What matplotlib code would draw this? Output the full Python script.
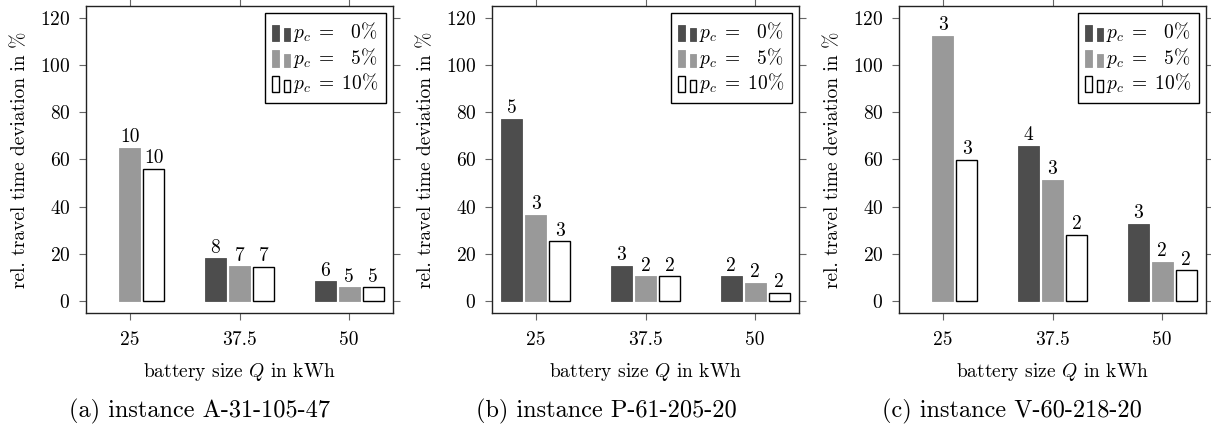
import numpy as np
import matplotlib
matplotlib.use("Agg")
import matplotlib.pyplot as plt
from matplotlib.patches import Rectangle
from matplotlib.legend_handler import HandlerBase

# ========= estilo tipo pgfplots ==========
plt.rcParams['font.family'] = 'serif'
plt.rcParams['font.serif'] = ['cmr10']
plt.rcParams['mathtext.fontset'] = 'cm'
plt.rcParams['axes.formatter.use_mathtext'] = True
plt.rcParams['font.size'] = 14
# =========================================

battery = [25, 37.5, 50]
tick_labels = ["25", "37.5", "50"]
series_names = [r"$p_c\;=\;\enspace 0\%\,$", r"$p_c\;=\;\enspace 5\%\,$", r"$p_c\;=\;10\%\,$"]
captions = ["(a) instance A-31-105-47", "(b) instance P-61-205-20", "(c) instance V-60-218-20"]

# panel a
a_p0 = [np.nan, 18.2, 8.4]
a_p5 = [64.9, 14.8, 5.9]
a_p10 = [56.1, 14.6, 5.8]
a_n0 = [None, 8, 6]
a_n5 = [10, 7, 5]
a_n10 = [10, 7, 5]

# panel b
b_p0 = [77.2, 15.1, 10.6]
b_p5 = [36.6, 10.6, 7.7]
b_p10 = [25.4, 10.6, 3.5]
b_n0 = [5, 3, 2]
b_n5 = [3, 2, 2]
b_n10 = [3, 2, 2]

# panel c
c_p0 = [np.nan, 65.9, 32.8]
c_p5 = [112.5, 51.5, 16.6]
c_p10 = [59.9, 28.2, 13.0]
c_n0 = [None, 4, 3]
c_n5 = [3, 3, 2]
c_n10 = [3, 2, 2]

DARK = "#4d4d4d"
GRAY = "#999999"


class DosBarras(HandlerBase):
    def create_artists(self, legend, orig_handle, xdescent, ydescent,
                       width, height, fontsize, trans):
        fc = orig_handle.get_facecolor()
        ec = orig_handle.get_edgecolor()
        lw = orig_handle.get_linewidth()
        w = width * 0.36
        y0 = -ydescent - 0.15 * fontsize
        r1 = Rectangle((-xdescent, y0), w, 0.85 * fontsize, fc=fc, ec=ec, lw=lw, transform=trans)
        r2 = Rectangle((-xdescent + width * 0.64, y0), w, 0.65 * fontsize, fc=fc, ec=ec, lw=lw, transform=trans)
        return [r1, r2]


def dibujar_panel(fig, rect, valores, numeros, caption, cap_x, ylab_x):
    ax = fig.add_axes(rect)
    d = 2.74
    bw = 2.4
    estilos = [(DARK, DARK, 0.6), (GRAY, GRAY, 0.6), ("white", "black", 1.0)]
    x = np.array(battery)
    handles = []
    for k, (vals, nums) in enumerate(zip(valores, numeros)):
        fc, ec, lw = estilos[k]
        pos = x + (k - 1) * d
        bars = ax.bar(pos, vals, width=bw, color=fc, edgecolor=ec, linewidth=lw, zorder=2)
        handles.append(bars.patches[-1])
        for xi, v, n in zip(pos, vals, nums):
            if n is None or np.isnan(v):
                continue
            ax.annotate(str(n), (xi, v), xytext=(0, 4), textcoords="offset points",
                        ha="center", va="baseline", fontsize=14)
    ax.set_xlim(20, 55)
    ax.set_ylim(-5, 125)
    ax.set_xticks(battery)
    ax.set_xticklabels(tick_labels)
    ax.set_yticks([0, 20, 40, 60, 80, 100, 120])
    ax.tick_params(direction="out", length=5, width=0.8, color="#666666",
                   top=True, right=True, labelsize=14)
    ax.tick_params(axis="x", pad=8)
    ax.tick_params(axis="y", pad=6.2)
    for s in ax.spines.values():
        s.set_linewidth(1.0)
        s.set_color("#222222")
    ax.text(0.5, -0.208, r"battery size $Q$ in kWh", transform=ax.transAxes,
            ha="center", va="baseline", fontsize=14)
    ax.set_ylabel("rel. travel time deviation in %", fontsize=14)
    ax.yaxis.set_label_coords(ylab_x, 0.5)
    leg = ax.legend(handles, series_names, loc="upper right", fontsize=14,
                    handler_map={h: DosBarras() for h in handles},
                    handlelength=0.95, handletextpad=0.15, labelspacing=0.08,
                    borderpad=0.38, borderaxespad=0.35, fancybox=False,
                    framealpha=1, edgecolor="black")
    leg.get_frame().set_linewidth(1.0)
    fig.text(cap_x, 0.0165, caption, ha="center", va="baseline", fontsize=17.5)
    return ax


fig = plt.figure(figsize=(12.11, 4.24), dpi=100)
W, H = 1211.0, 424.0
bottom = (H - 313) / H
height = 307 / H
width = 307 / W

dibujar_panel(fig, [86 / W, bottom, width, height],
              [a_p0, a_p5, a_p10], [a_n0, a_n5, a_n10], captions[0], 200 / W, -0.185)
dibujar_panel(fig, [492 / W, bottom, width, height],
              [b_p0, b_p5, b_p10], [b_n0, b_n5, b_n10], captions[1], 606 / W, -0.185)
dibujar_panel(fig, [899 / W, bottom, width, height],
              [c_p0, c_p5, c_p10], [c_n0, c_n5, c_n10], captions[2], 1012 / W, -0.185)

plt.savefig("out.png", dpi=100)
plt.close()
